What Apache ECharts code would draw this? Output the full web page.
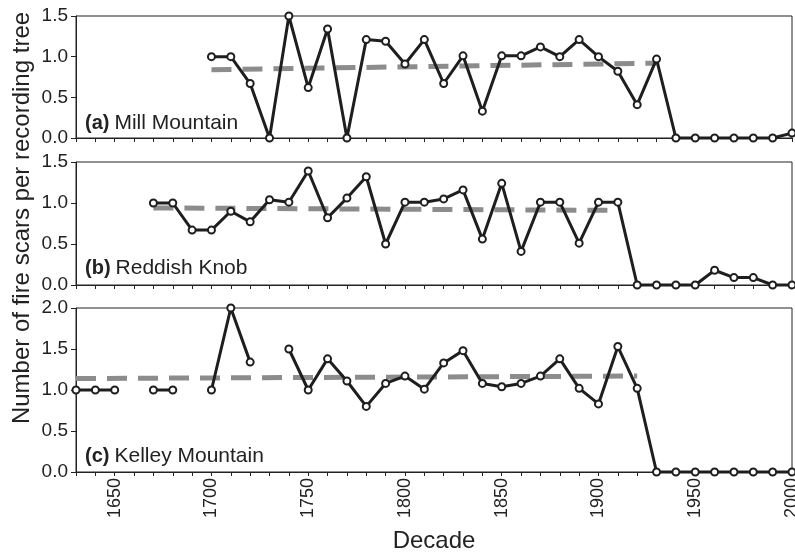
<!DOCTYPE html>
<html><head><meta charset="utf-8">
<script src="https://cdn.jsdelivr.net/npm/echarts@6/dist/echarts.min.js"></script>
<style>html,body{margin:0;padding:0;background:#fff}#c{width:795px;height:553px}</style>
</head><body><div id="c"></div>
<script>
// Mill Mountain 1700-2000
const millYears = [1700,1710,1720,1730,1740,1750,1760,1770,1780,1790,1800,1810,1820,1830,1840,1850,1860,1870,1880,1890,1900,1910,1920,1930,1940,1950,1960,1970,1980,1990,2000];
const millValues = [1.0,1.0,0.67,0.0,1.5,0.62,1.34,0.0,1.21,1.19,0.91,1.21,0.67,1.01,0.33,1.01,1.01,1.12,1.0,1.21,1.0,0.82,0.41,0.97,0.0,0.0,0.0,0.0,0.0,0.0,0.06];
const millTrendYears = [1700,1930];
const millTrend = [0.84,0.92];

// Reddish Knob 1670-2000
const redYears = [1670,1680,1690,1700,1710,1720,1730,1740,1750,1760,1770,1780,1790,1800,1810,1820,1830,1840,1850,1860,1870,1880,1890,1900,1910,1920,1930,1940,1950,1960,1970,1980,1990,2000];
const redValues = [1.0,1.0,0.67,0.67,0.9,0.77,1.04,1.01,1.39,0.82,1.06,1.32,0.5,1.01,1.01,1.05,1.16,0.56,1.24,0.41,1.01,1.01,0.51,1.01,1.01,0.0,0.0,0.0,0.0,0.18,0.09,0.09,0.0,0.0];
const redTrendYears = [1670,1910];
const redTrend = [0.94,0.91];

// Kelley Mountain 1630-2000 (null = no data)
const kelYears = [1630,1640,1650,1660,1670,1680,1690,1700,1710,1720,1730,1740,1750,1760,1770,1780,1790,1800,1810,1820,1830,1840,1850,1860,1870,1880,1890,1900,1910,1920,1930,1940,1950,1960,1970,1980,1990,2000];
const kelValues = [1.0,1.0,1.0,null,1.0,1.0,null,1.0,2.0,1.34,null,1.5,1.0,1.38,1.11,0.8,1.08,1.17,1.01,1.33,1.48,1.08,1.04,1.08,1.17,1.38,1.02,0.83,1.53,1.02,0.0,0.0,0.0,0.0,0.0,0.0,0.0,0.0];
const kelTrendYears = [1630,1920];
const kelTrend = [1.14,1.17];

const panelTitles = [['(a)','Mill Mountain'],['(b)','Reddish Knob'],['(c)','Kelley Mountain']];
const xTickLabels = [1650,1700,1750,1800,1850,1900,1950,2000];
const yAxisTitle = 'Number of fire scars per recording tree';
const xAxisTitle = 'Decade';

const FONT = "'Liberation Sans', Arial, sans-serif";
const grids = [
  {left: 76, right: 3, top: 16, bottom: 415},
  {left: 76, right: 3, top: 162, bottom: 268},
  {left: 76, right: 3, top: 308, bottom: 81}
].map(g => Object.assign(g, {show: true, borderColor: '#222', borderWidth: 1, backgroundColor: 'transparent', containLabel: false, outerBoundsMode: 'none'}));

function xAxis(i, labels) {
  return {
    type: 'value', gridIndex: i, min: 1630, max: 2000, interval: 10,
    axisLine: {lineStyle: {color: '#222', width: 1}},
    axisTick: {show: true, length: 4, lineStyle: {color: '#222'}},
    splitLine: {show: false},
    axisLabel: labels ? {
      show: true, rotate: 90, fontSize: 18, color: '#222', fontFamily: FONT, margin: 6,
      hideOverlap: false,
      formatter: v => xTickLabels.indexOf(v) >= 0 ? String(v) : ''
    } : {show: false},
    name: labels ? xAxisTitle : '', nameLocation: 'middle', nameGap: 57,
    nameTextStyle: {fontSize: 24, color: '#222', fontFamily: FONT}
  };
}
function yAxis(i, max) {
  return {
    type: 'value', gridIndex: i, min: 0, max: max, interval: 0.5,
    axisLine: {show: true, lineStyle: {color: '#222', width: 1}},
    axisTick: {show: true, length: 5, lineStyle: {color: '#222'}},
    splitLine: {show: false},
    axisLabel: {fontSize: 19, color: '#222', fontFamily: FONT, margin: 8, formatter: v => v.toFixed(1)}
  };
}
function zip(xs, ys) { return xs.map((x, k) => [x, ys[k]]); }
function dataSeries(i, xs, ys) {
  return {
    type: 'line', xAxisIndex: i, yAxisIndex: i, data: zip(xs, ys), connectNulls: false,
    lineStyle: {color: '#1e1e1e', width: 3}, symbol: 'circle', symbolSize: 7,
    itemStyle: {color: '#fff', borderColor: '#1e1e1e', borderWidth: 2}, z: 3, silent: true, animation: false, clip: false
  };
}
function trendSeries(i, xs, ys) {
  return {
    type: 'line', xAxisIndex: i, yAxisIndex: i, data: zip(xs, ys), symbol: 'none',
    lineStyle: {color: '#8c8c8c', width: 5, type: [20, 11]}, z: 2, silent: true, animation: false
  };
}

const chart = echarts.init(document.getElementById('c'));
chart.setOption({
  animation: false,
  grid: grids,
  xAxis: [xAxis(0, false), xAxis(1, false), xAxis(2, true)],
  yAxis: [yAxis(0, 1.5), yAxis(1, 1.5), yAxis(2, 2.0)],
  title: panelTitles.map((t, i) => ({
    text: '{b|' + t[0] + '} {n|' + t[1] + '}',
    left: 80, top: [108, 253, 441][i],
    textStyle: {fontWeight: 'normal', fontFamily: FONT, rich: {
      b: {fontSize: 20, fontWeight: 'bold', color: '#222', fontFamily: FONT},
      n: {fontSize: 21, fontWeight: 'normal', color: '#222', fontFamily: FONT}
    }}
  })),
  graphic: [{
    type: 'text', x: 22, y: 218,
    rotation: Math.PI / 2,
    style: {text: yAxisTitle, fontSize: 24, fill: '#222', fontFamily: FONT, textAlign: 'center', textVerticalAlign: 'middle'}
  }],
  series: [
    trendSeries(0, millTrendYears, millTrend), dataSeries(0, millYears, millValues),
    trendSeries(1, redTrendYears, redTrend), dataSeries(1, redYears, redValues),
    trendSeries(2, kelTrendYears, kelTrend), dataSeries(2, kelYears, kelValues)
  ]
});
</script></body></html>
